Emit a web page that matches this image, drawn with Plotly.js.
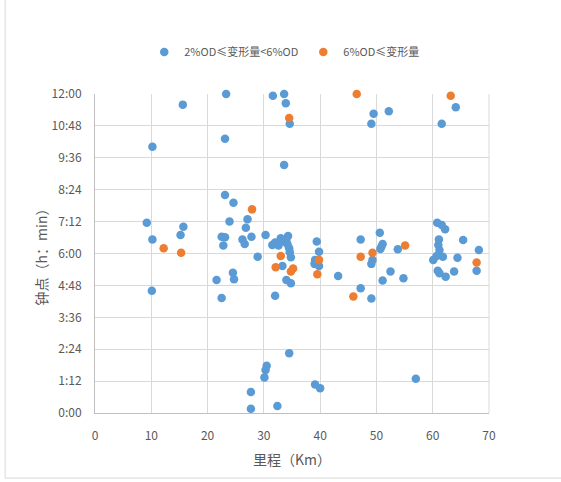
<!DOCTYPE html>
<html>
<head>
<meta charset="utf-8">
<script src="https://cdn.plot.ly/plotly-3.0.1.min.js"></script>
<style>html,body{margin:0;padding:0;background:#fff;}#chart{width:561px;height:482px;}</style>
</head>
<body>
<div id="chart"></div>
<script>
// Series names
const seriesNames = ["2%OD≤变形量<6%OD", "6%OD≤变形量"];

// Blue series: mileage (km) and clock position (hours)
const blueX = [23.3,31.6,33.6,33.9,15.6,34.6,23.1,10.2,33.6,64.1,61.6,49.5,49.1,52.2,
  23.1,24.6,9.2,15.7,10.2,15.2,22.5,23.1,22.8,21.6,22.5,10.1,23.9,27.1,26.8,26.2,26.6,27.8,
  30.3,28.9,24.5,24.7,31.5,32.0,32.6,33.0,33.5,34.0,34.3,34.2,34.5,34.6,34.8,33.3,34.0,34.8,
  32.0,39.4,39.8,39.1,39.0,39.8,43.2,47.2,47.2,50.6,51.1,50.9,50.7,49.3,49.1,53.8,52.5,51.1,
  54.8,49.1,60.8,61.6,62.2,61.1,61.0,61.2,60.1,60.7,61.8,65.4,64.4,68.2,67.8,60.9,61.2,62.3,
  63.8,34.5,30.5,30.3,30.1,27.7,27.7,32.4,39.1,40.0,57.0];
const blueY = [12.0,11.93,12.0,11.65,11.6,10.88,10.32,10.02,9.33,11.5,10.88,11.26,10.88,11.35,
  8.2,7.91,7.16,7.01,6.53,6.70,6.63,6.61,6.30,5.0,4.33,4.60,7.20,7.29,6.97,6.53,6.36,6.63,
  6.70,5.88,5.28,5.03,6.32,6.41,6.30,6.57,6.45,6.51,6.66,6.35,6.2,6.05,5.86,5.53,5.0,4.88,
  4.41,6.45,6.07,5.76,5.61,5.53,5.15,6.53,4.69,6.78,6.36,6.26,6.17,5.76,5.61,6.16,5.32,4.98,
  5.07,4.31,7.16,7.07,6.91,6.53,6.32,6.13,5.76,5.91,5.88,6.51,5.84,6.13,5.35,5.35,5.26,5.13,
  5.32,2.25,1.78,1.62,1.34,0.79,0.16,0.26,1.07,0.93,1.29];

// Orange series
const orangeX = [12.2,15.3,27.9,33.0,32.1,35.2,34.8,34.5,39.8,39.5,45.9,46.5,47.2,49.3,55.1,63.2,67.8];
const orangeY = [6.20,6.03,7.66,5.91,5.48,5.44,5.32,11.1,5.76,5.22,4.38,12.0,5.88,6.03,6.30,11.93,5.66];

// Axis ticks
const yTickVals = [0,1.2,2.4,3.6,4.8,6,7.2,8.4,9.6,10.8,12];
const yTickText = ["0:00","1:12","2:24","3:36","4:48","6:00","7:12","8:24","9:36","10:48","12:00"];
const xTickVals = [0,10,20,30,40,50,60,70];

const FONT = '"Noto Sans CJK SC", "Noto Sans", sans-serif';
const grey = '#595959';

const traces = [
  {x: blueX, y: blueY, type: 'scatter', mode: 'markers', name: seriesNames[0],
   marker: {color: '#5B9BD5', size: 8.5}, cliponaxis: false},
  {x: orangeX, y: orangeY, type: 'scatter', mode: 'markers', name: seriesNames[1],
   marker: {color: '#ED7D31', size: 8.5}, cliponaxis: false}
];

const layout = {
  width: 561, height: 482,
  margin: {l: 95, r: 72, t: 94, b: 69, pad: 0},
  paper_bgcolor: '#fff', plot_bgcolor: '#fff',
  font: {family: FONT, color: grey, size: 12},
  showlegend: true,
  legend: {orientation: 'h', x: 0.125, xanchor: 'left', y: 1.132, yanchor: 'middle',
           font: {family: FONT, size: 11, color: grey}, itemwidth: 30},
  xaxis: {range: [0, 70], tickvals: xTickVals, showgrid: true, gridcolor: '#D9D9D9',
          zeroline: false, showline: true, linecolor: '#BFBFBF', mirror: false,
          ticks: 'outside', ticklen: 12, tickcolor: 'rgba(0,0,0,0)',
          tickfont: {family: FONT, size: 12, color: grey},
          title: {text: '里程（Km）', font: {family: FONT, size: 14, color: grey}, standoff: 12}},
  yaxis: {range: [0, 12], tickvals: yTickVals, ticktext: yTickText, showgrid: true, gridcolor: '#D9D9D9',
          zeroline: false, showline: true, linecolor: '#BFBFBF',
          ticks: 'outside', ticklen: 10, tickcolor: 'rgba(0,0,0,0)',
          tickfont: {family: FONT, size: 12, color: grey},
          title: {text: '钟点（h：min）', font: {family: FONT, size: 14, color: grey}, standoff: 0}},
  shapes: [
    {type: 'line', xref: 'paper', yref: 'paper', x0: 1, x1: 1, y0: 0, y1: 1, line: {color: '#D9D9D9', width: 1}},
    {type: 'rect', xref: 'paper', yref: 'paper', x0: -0.228, x1: 1.195, y0: -0.204, y1: 1.31,
     line: {color: '#D9D9D9', width: 1}, layer: 'below'}
  ]
};

Plotly.newPlot('chart', traces, layout, {displayModeBar: false, staticPlot: true});
</script>
</body>
</html>
